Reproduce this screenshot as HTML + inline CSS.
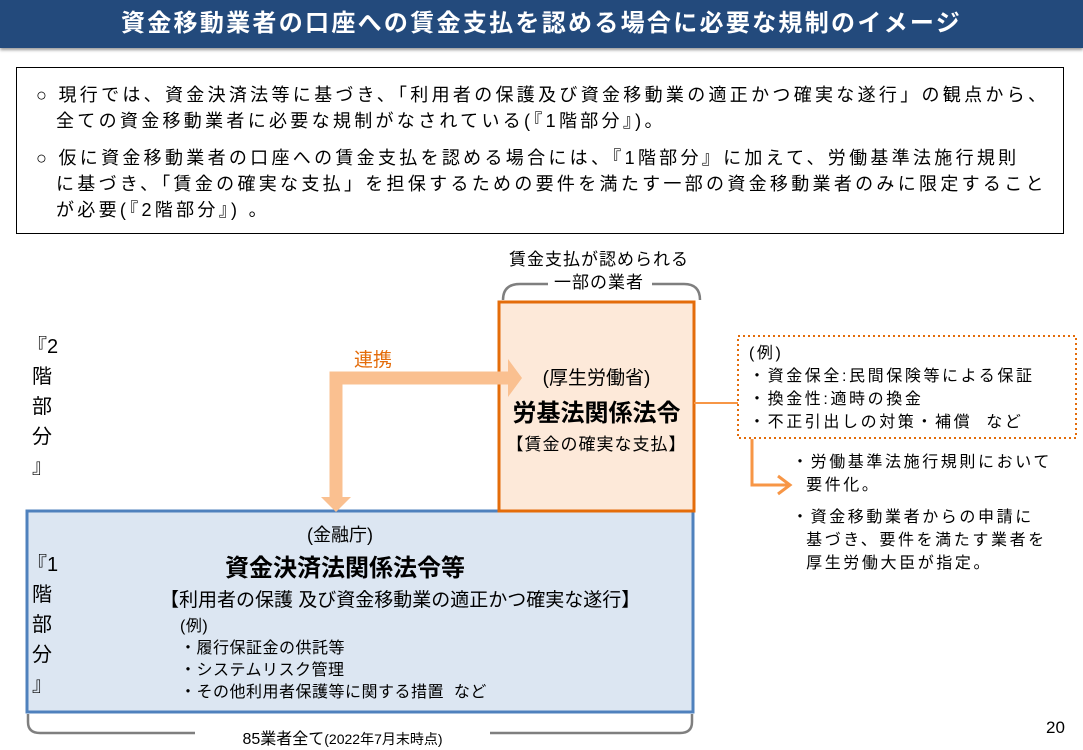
<!DOCTYPE html>
<html><head><meta charset="utf-8"><style>
*{margin:0;padding:0;box-sizing:border-box}
body{width:1083px;height:750px;position:relative;background:#fff;font-family:"Liberation Sans","Noto Sans CJK JP",sans-serif;color:#000;overflow:hidden}
.a{position:absolute;white-space:nowrap}
#hd{left:0;top:0;width:1083px;height:48px;background:#234a7c;color:#fff;font-weight:bold;font-size:24px;letter-spacing:2.3px;line-height:48px;text-align:center;box-shadow:0 2px 3px #999}
#tb{left:16px;top:67px;width:1048px;height:167px;border:1px solid #000}
.t{font-size:18px;line-height:26px;letter-spacing:3.3px}
.v{font-size:20px;line-height:30px;text-align:center;width:30px}
.r{font-size:16px;line-height:23px;letter-spacing:2.6px}
</style></head><body>
<div class="a" id="hd">資金移動業者の口座への賃金支払を認める場合に必要な規制のイメージ</div>
<div class="a" id="tb"></div>
<div class="a t" style="left:36px;top:82px">○&nbsp;現行では、資金決済法等に基づき、「利用者の保護及び資金移動業の適正かつ確実な遂行」の観点から、</div>
<div class="a t" style="left:56px;top:108px">全ての資金移動業者に必要な規制がなされている(『1階部分』)。</div>
<div class="a t" style="left:36px;top:145px">○&nbsp;仮に資金移動業者の口座への賃金支払を認める場合には、『1階部分』に加えて、労働基準法施行規則</div>
<div class="a t" style="left:56px;top:171px">に基づき、「賃金の確実な支払」を担保するための要件を満たす一部の資金移動業者のみに限定すること</div>
<div class="a t" style="left:56px;top:197px">が必要(『2階部分』) 。</div>

<div class="a" style="left:499px;top:248px;width:200px;text-align:center;font-size:17px;line-height:23px;letter-spacing:1px">賃金支払が認められる<br>一部の業者</div>

<svg class="a" style="left:0;top:0" width="1083" height="750">
<path d="M503 300 Q503 284 520 284 L548 284 M652 284 L684 284 Q700 284 700 300" fill="none" stroke="#7f7f7f" stroke-width="2.5"/>
<rect x="27" y="511" width="666" height="201" fill="#dce6f2" stroke="#4f81bd" stroke-width="3"/>
<rect x="499" y="302" width="195" height="209" fill="#fde9d9" stroke="#e46c0a" stroke-width="3"/>
<path d="M336 498 L336 378 L508 378" fill="none" stroke="#fac090" stroke-width="13"/>
<polygon points="321,497 351,497 336,512" fill="#fac090"/>
<polygon points="508,359 522,378 508,397" fill="#fac090"/>
<line x1="694" y1="403" x2="738" y2="403" stroke="#f79646" stroke-width="2"/>
<rect x="738" y="336" width="338" height="102" fill="none" stroke="#e46c0a" stroke-width="2" stroke-dasharray="2,3"/>
<path d="M752 439 L752 485 L788 485" fill="none" stroke="#f79646" stroke-width="3"/>
<path d="M778 476 L790 485 L778 494" fill="none" stroke="#f79646" stroke-width="3"/>
<path d="M28 714 L28 722 Q28 733 40 733 L195 733 M490 733 L680 733 Q692 733 692 722 L692 714" fill="none" stroke="#7f7f7f" stroke-width="2.5"/>
</svg>

<div class="a" style="left:354px;top:345px;color:#e46c0a;font-size:19px">連携</div>
<div class="a" style="left:499px;top:363px;width:195px;text-align:center;font-size:19px">(厚生労働省)</div>
<div class="a" style="left:499px;top:393px;width:195px;text-align:center;font-size:24px;font-weight:bold">労基法関係法令</div>
<div class="a" style="left:499px;top:430px;width:195px;text-align:center;font-size:17px;letter-spacing:1px">【賃金の確実な支払】</div>

<div class="a r" style="left:749px;top:342px">(例)<br>・資金保全:民間保険等による保証<br>・換金性:適時の換金<br>・不正引出しの対策・補償&nbsp; など</div>
<div class="a r" style="left:792px;top:451px">・労働基準法施行規則において<br>&nbsp;&nbsp;要件化。</div>
<div class="a r" style="left:792px;top:506px">・資金移動業者からの申請に<br>&nbsp;&nbsp;基づき、要件を満たす業者を<br>&nbsp;&nbsp;厚生労働大臣が指定。</div>

<div class="a v" style="left:27px;top:332px">『2<br>階<br>部<br>分<br>』</div>
<div class="a v" style="left:27px;top:550px">『1<br>階<br>部<br>分<br>』</div>

<div class="a" style="left:0px;top:521px;width:680px;text-align:center;font-size:18px">(金融庁)</div>
<div class="a" style="left:0px;top:548px;width:690px;text-align:center;font-size:24px;font-weight:bold">資金決済法関係法令等</div>
<div class="a" style="left:160px;top:585px;font-size:19px">【利用者の保護 及び資金移動業の適正かつ確実な遂行】</div>
<div class="a" style="left:180px;top:616px;font-size:16px;line-height:22px;letter-spacing:0.5px">(例)<br>・履行保証金の供託等<br>・システムリスク管理<br>・その他利用者保護等に関する措置&nbsp; など</div>

<div class="a" style="left:195px;top:725px;width:295px;text-align:center;font-size:16px">85業者全て<span style="font-size:14px">(2022年7月末時点)</span></div>
<div class="a" style="left:1046px;top:718px;font-size:17px">20</div>
</body></html>
